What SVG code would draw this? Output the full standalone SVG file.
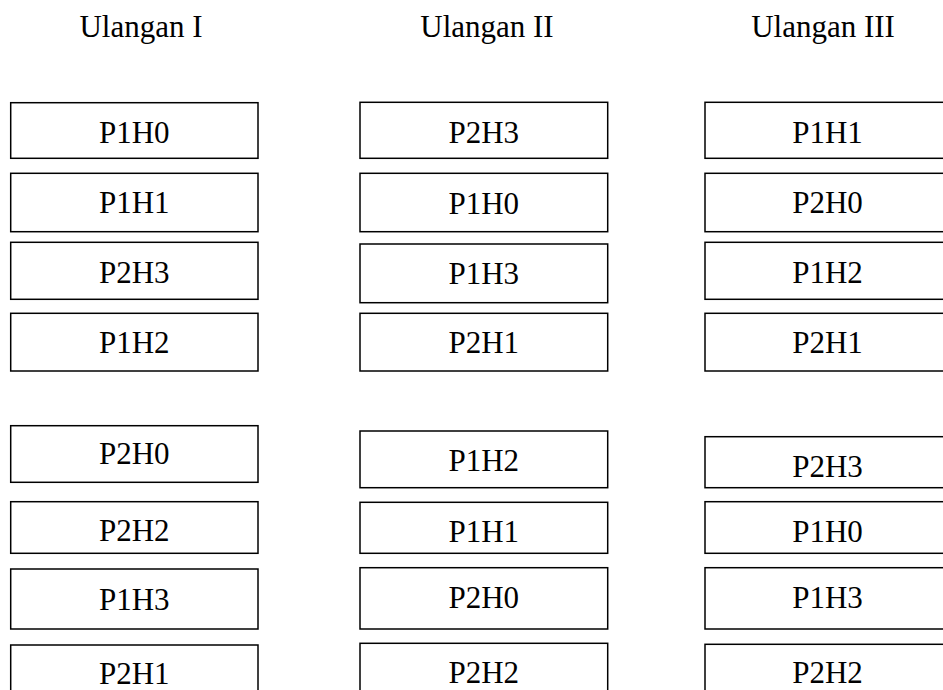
<svg xmlns="http://www.w3.org/2000/svg" width="943" height="690" viewBox="0 0 943 690">
  <style>
    .box rect { fill: #ffffff; stroke: #000000; stroke-width: 1.5; }
    .lbl { font-family: 'Liberation Serif', 'Times New Roman', Times, 'DejaVu Serif', serif; font-size: 31px; fill: #000000; text-anchor: middle; }
  </style>
  <rect x="0" y="0" width="943" height="690" fill="#ffffff"/>

  <!-- column headings -->
  <g id="headers" font-family="Liberation Serif, serif">
    <text class="lbl" x="141" y="37">Ulangan I</text>
    <text class="lbl" x="487" y="37">Ulangan II</text>
    <text class="lbl" x="823" y="37">Ulangan III</text>
  </g>

  <!-- Ulangan I -->
  <g id="u1" font-family="Liberation Serif, serif">
    <g id="u1-1" class="box"><rect x="10.7" y="102.7" width="247.3" height="55.6"/><text class="lbl" x="134.3" y="143.3">P1H0</text></g>
    <g id="u1-2" class="box"><rect x="10.7" y="173.3" width="247.3" height="58.4"/><text class="lbl" x="134.3" y="212.7">P1H1</text></g>
    <g id="u1-3" class="box"><rect x="10.7" y="242.3" width="247.3" height="57"/><text class="lbl" x="134.3" y="282.7">P2H3</text></g>
    <g id="u1-4" class="box"><rect x="10.7" y="313.3" width="247.3" height="57.7"/><text class="lbl" x="134.3" y="352.7">P1H2</text></g>
    <g id="u1-5" class="box"><rect x="10.7" y="425.7" width="247.3" height="56.6"/><text class="lbl" x="134.3" y="464.3">P2H0</text></g>
    <g id="u1-6" class="box"><rect x="10.7" y="501.7" width="247.3" height="51.6"/><text class="lbl" x="134.3" y="541">P2H2</text></g>
    <g id="u1-7" class="box"><rect x="10.7" y="569" width="247.3" height="60"/><text class="lbl" x="134.3" y="610">P1H3</text></g>
    <g id="u1-8" class="box"><rect x="10.7" y="645" width="247.3" height="60"/><text class="lbl" x="134.3" y="684">P2H1</text></g>
  </g>

  <!-- Ulangan II -->
  <g id="u2" font-family="Liberation Serif, serif">
    <g id="u2-1" class="box"><rect x="360" y="102.3" width="247.7" height="56"/><text class="lbl" x="483.8" y="143.3">P2H3</text></g>
    <g id="u2-2" class="box"><rect x="360" y="173.3" width="247.7" height="58.4"/><text class="lbl" x="483.8" y="214">P1H0</text></g>
    <g id="u2-3" class="box"><rect x="360" y="244" width="247.7" height="58.7"/><text class="lbl" x="483.8" y="284.3">P1H3</text></g>
    <g id="u2-4" class="box"><rect x="360" y="313.3" width="247.7" height="57.7"/><text class="lbl" x="483.8" y="352.7">P2H1</text></g>
    <g id="u2-5" class="box"><rect x="360" y="431" width="247.7" height="56.7"/><text class="lbl" x="483.8" y="471">P1H2</text></g>
    <g id="u2-6" class="box"><rect x="360" y="502.3" width="247.7" height="51"/><text class="lbl" x="483.8" y="541.7">P1H1</text></g>
    <g id="u2-7" class="box"><rect x="360" y="567.7" width="247.7" height="61.3"/><text class="lbl" x="483.8" y="608.3">P2H0</text></g>
    <g id="u2-8" class="box"><rect x="360" y="643.3" width="247.7" height="60"/><text class="lbl" x="483.8" y="683.3">P2H2</text></g>
  </g>

  <!-- Ulangan III -->
  <g id="u3" font-family="Liberation Serif, serif">
    <g id="u3-1" class="box"><rect x="705" y="102.3" width="248" height="56"/><text class="lbl" x="827.5" y="143.3">P1H1</text></g>
    <g id="u3-2" class="box"><rect x="705" y="173.3" width="248" height="58.4"/><text class="lbl" x="827.5" y="213.3">P2H0</text></g>
    <g id="u3-3" class="box"><rect x="705" y="242.3" width="248" height="57"/><text class="lbl" x="827.5" y="282.7">P1H2</text></g>
    <g id="u3-4" class="box"><rect x="705" y="313.3" width="248" height="57.7"/><text class="lbl" x="827.5" y="352.7">P2H1</text></g>
    <g id="u3-5" class="box"><rect x="705" y="436.7" width="248" height="51"/><text class="lbl" x="827.5" y="476.7">P2H3</text></g>
    <g id="u3-6" class="box"><rect x="705" y="501.7" width="248" height="51.6"/><text class="lbl" x="827.5" y="541.7">P1H0</text></g>
    <g id="u3-7" class="box"><rect x="705" y="567.7" width="248" height="61.3"/><text class="lbl" x="827.5" y="608.3">P1H3</text></g>
    <g id="u3-8" class="box"><rect x="705" y="644.3" width="248" height="60"/><text class="lbl" x="827.5" y="683.3">P2H2</text></g>
  </g>

  <!-- no connectors in this layout -->
  <g id="connectors"/>
</svg>
